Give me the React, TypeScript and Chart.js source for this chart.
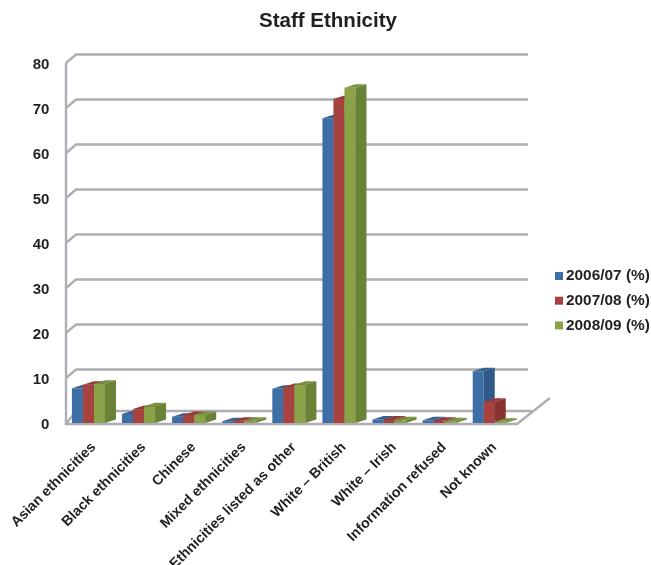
import React, { useEffect, useRef } from "react";
import { Chart, registerables } from "chart.js";

Chart.register(...registerables);

const categories = [
  "Asian ethnicities",
  "Black ethnicities",
  "Chinese",
  "Mixed ethnicities",
  "Ethnicities listed as other",
  "White – British",
  "White – Irish",
  "Information refused",
  "Not known",
];
const series0607 = [7.7, 2.0, 1.4, 0.4, 7.6, 67.7, 0.8, 0.6, 11.5];
const series0708 = [8.5, 3.1, 1.8, 0.5, 8.0, 72.0, 0.8, 0.5, 4.7];
const series0809 = [8.7, 3.7, 1.8, 0.5, 8.5, 74.5, 0.6, 0.4, 0.3];
const seriesNames = ["2006/07 (%)", "2007/08 (%)", "2008/09 (%)"];

const FONT = "'Liberation Sans', Arial, sans-serif";
const TEXT = "#231f20";
const WALL = "#adadb3";
const FRONT = ["#3d6ea6", "#a8423f", "#8ba348"];
const SIDE = ["#2f5a8a", "#8a3432", "#6a8237"];
const TOP = ["#35628f", "#963a37", "#78913e"];

// Extrusion of each bar and of the chart's back wall
const BAR_DX = 11;
const BAR_DY = -3.5;
const WALL_DX = 10;
const WALL_DY = -8.5;

// Back wall, left wall and floor, placed through the value scale
const wallPlugin = {
  id: "wall",
  beforeDatasetsDraw(chart: any) {
    const { ctx, scales } = chart;
    const y = scales.y;
    const left = 66;
    const right = 528;
    ctx.save();
    ctx.strokeStyle = WALL;
    ctx.lineWidth = 2.4;
    ctx.lineJoin = "miter";
    y.ticks.forEach((t: any) => {
      if (t.value === 0) return;
      const py = y.getPixelForValue(t.value);
      ctx.beginPath();
      ctx.moveTo(left, py);
      ctx.lineTo(left + WALL_DX, py + WALL_DY);
      ctx.lineTo(right, py + WALL_DY);
      ctx.stroke();
    });
    const y0 = y.getPixelForValue(0) + 1;
    ctx.beginPath();
    ctx.moveTo(left, y0);
    ctx.lineTo(left + WALL_DX, y0 - 13);
    ctx.lineTo(532, y0 - 13);
    ctx.stroke();
    ctx.beginPath();
    ctx.moveTo(left, y.getPixelForValue(80));
    ctx.lineTo(left, y0);
    ctx.lineTo(517, y0);
    ctx.lineTo(550, y0 - 26);
    ctx.stroke();
    ctx.restore();
  },
};

// Paints each series left to right, so a bar's front hides its left neighbour's side face
const extrudePlugin = {
  id: "extrude",
  beforeDatasetDraw() {
    return false;
  },
  afterDatasetsDraw(chart: any) {
    const { ctx } = chart;
    ctx.save();
    seriesNames.forEach((_, i) => {
      chart.getDatasetMeta(i).data.forEach((bar: any) => {
        const { x, y, base, width } = bar.getProps(["x", "y", "base", "width"], true);
        const l = x - width / 2;
        const r = x + width / 2;
        bar.draw(ctx);
        ctx.fillStyle = SIDE[i];
        ctx.beginPath();
        ctx.moveTo(r, y);
        ctx.lineTo(r + BAR_DX, y + BAR_DY);
        ctx.lineTo(r + BAR_DX, base + BAR_DY);
        ctx.lineTo(r, base);
        ctx.closePath();
        ctx.fill();
        ctx.fillStyle = TOP[i];
        ctx.beginPath();
        ctx.moveTo(l, y);
        ctx.lineTo(l + BAR_DX, y + BAR_DY);
        ctx.lineTo(r + BAR_DX, y + BAR_DY);
        ctx.lineTo(r, y);
        ctx.closePath();
        ctx.fill();
      });
    });
    ctx.restore();
  },
};

// Places the title and draws the compact legend in the right margin
const framePlugin = {
  id: "frame",
  afterLayout(chart: any) {
    chart.titleBlock.left = 0;
    chart.titleBlock.right = 656;
  },
  afterDraw(chart: any) {
    const { ctx } = chart;
    ctx.save();
    ctx.font = `bold 15.4px ${FONT}`;
    ctx.textBaseline = "middle";
    ctx.textAlign = "left";
    seriesNames.forEach((name, i) => {
      const cy = 276 + i * 24.7;
      ctx.fillStyle = FRONT[i];
      ctx.fillRect(555, cy - 4, 8, 8);
      ctx.fillStyle = TEXT;
      ctx.fillText(name, 566, cy);
    });
    ctx.restore();
  },
};

export default function App() {
  const ref = useRef<HTMLCanvasElement | null>(null);

  useEffect(() => {
    const values = [series0607, series0708, series0809];
    const chart = new Chart(ref.current as HTMLCanvasElement, {
      type: "bar",
      data: {
        labels: categories,
        datasets: seriesNames.map((label, i) => ({
          label,
          data: values[i],
          backgroundColor: FRONT[i],
          barPercentage: 1,
          categoryPercentage: 0.66,
        })),
      },
      options: {
        responsive: false,
        animation: false,
        layout: { padding: { right: 136.7 } },
        plugins: {
          legend: { display: false },
          tooltip: { enabled: false },
          title: {
            display: true,
            text: "Staff Ethnicity",
            color: TEXT,
            font: { family: FONT, size: 20.5, weight: "bold", lineHeight: 1.2 },
            padding: { top: 9, bottom: 29.4 },
          },
        },
        scales: {
          x: {
            grid: { display: false },
            border: { display: false },
            ticks: {
              autoSkip: false,
              minRotation: 45,
              maxRotation: 45,
              padding: 8,
              labelOffset: 5,
              color: TEXT,
              font: { family: FONT, size: 14.2, weight: "bold" },
            },
            afterFit(scale: any) {
              scale.height = 142;
              scale.paddingLeft = 0;
              scale.paddingRight = 0;
            },
          },
          y: {
            min: 0,
            max: 80,
            grid: { display: false },
            border: { display: false },
            ticks: {
              stepSize: 10,
              padding: 6,
              labelOffset: 1.5,
              color: TEXT,
              font: { family: FONT, size: 15, weight: "bold" },
            },
            afterFit(scale: any) {
              scale.width = 63.4;
            },
          },
        },
      },
      plugins: [wallPlugin, extrudePlugin, framePlugin],
    } as any);
    return () => chart.destroy();
  }, []);

  return (
    <div style={{ position: "fixed", left: 0, top: 0, width: 651, height: 565, background: "#fff" }}>
      <canvas ref={ref} width={651} height={565} style={{ display: "block" }} />
    </div>
  );
}
